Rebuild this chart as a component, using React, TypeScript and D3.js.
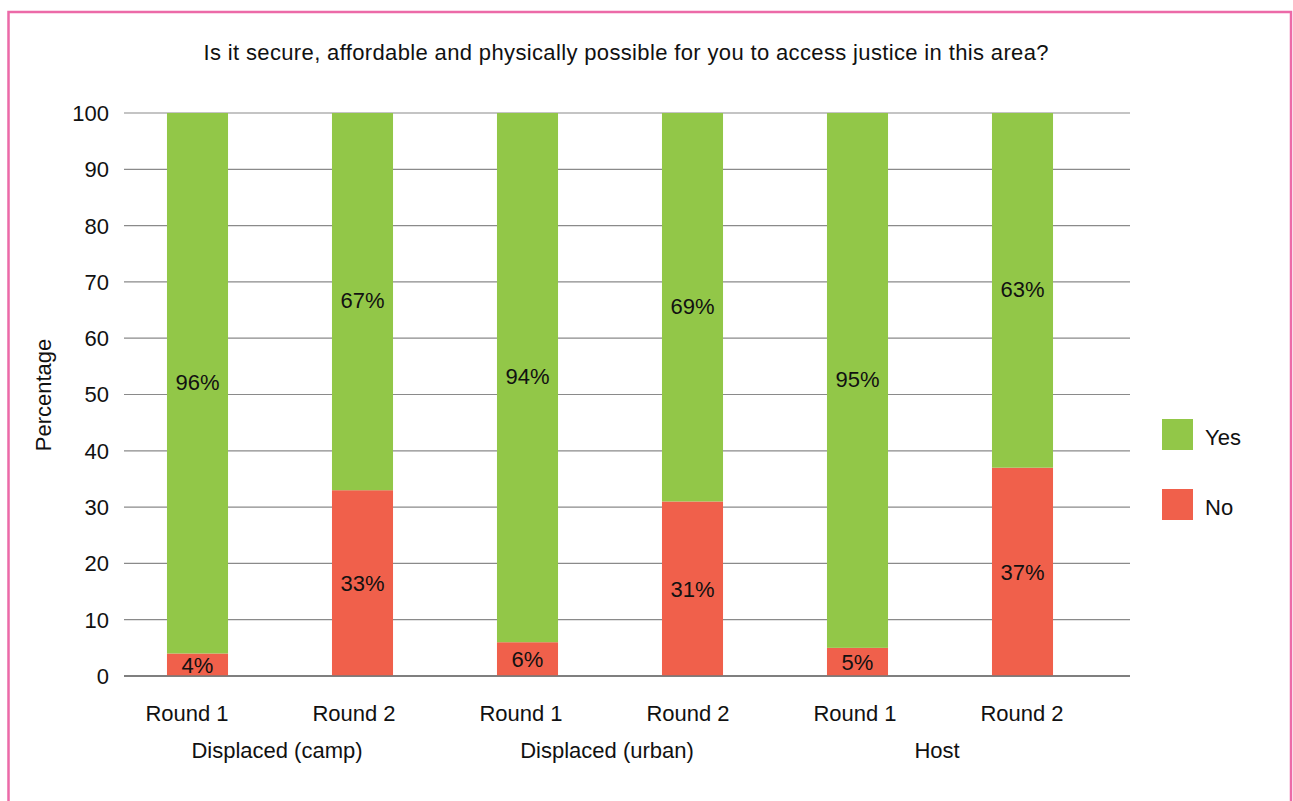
import React from "react";
import * as d3 from "d3";

const categories = ["Round 1", "Round 2", "Round 1", "Round 2", "Round 1", "Round 2"];
const groups = ["Displaced (camp)", "Displaced (urban)", "Host"];
const noValues = [4, 33, 6, 31, 5, 37];
const yesValues = [96, 67, 94, 69, 95, 63];
const yTicks = [0, 10, 20, 30, 40, 50, 60, 70, 80, 90, 100];
const seriesNames = ["Yes", "No"];

const W = 1293;
const H = 801;
const GREEN = "#92c748";
const RED = "#f0604b";
const FONT = "'Liberation Sans', Arial, Helvetica, sans-serif";
const FS = 22;

export default function App() {
  const y = d3.scaleLinear().domain([0, 100]).range([676, 113]);
  const idx = categories.map((_, i) => String(i));
  const x = d3.scaleBand().domain(idx).range([115, 1105]).paddingInner(0.63).paddingOuter(0.315);
  const xLabel = d3.scalePoint().domain(idx).range([187, 1022]);
  const bw = x.bandwidth();
  const gridX0 = 124;
  const gridX1 = 1130;

  return (
    <svg width={W} height={H} style={{ position: "absolute", left: 0, top: 0, fontFamily: FONT }}>
      <rect x={0} y={0} width={W} height={H} fill="#fff" />
      <rect x={8.5} y={12} width={1282.5} height={H + 20} fill="none" stroke="#ec6aa8" strokeWidth={2.5} />
      <text x={626} y={60} textAnchor="middle" fontSize={FS} fill="#111" textLength={845} lengthAdjust="spacing">
        Is it secure, affordable and physically possible for you to access justice in this area?
      </text>
      {yTicks.map((t) => (
        <g key={t}>
          <line x1={gridX0} x2={gridX1} y1={y(t)} y2={y(t)} stroke={t === 0 ? "#777" : "#8a8a8a"} strokeWidth={t === 0 ? 1.5 : 1.2} />
          <text x={109} y={y(t)} dy="0.36em" textAnchor="end" fontSize={FS} fill="#111">
            {t}
          </text>
        </g>
      ))}
      <text transform="translate(51,395) rotate(-90)" textAnchor="middle" fontSize={FS} fill="#111">
        Percentage
      </text>
      {idx.map((k, i) => {
        const x0 = x(k)!;
        const no = noValues[i];
        const yes = yesValues[i];
        return (
          <g key={k}>
            <rect x={x0} width={bw} y={y(no)} height={y(0) - y(no)} fill={RED} />
            <rect x={x0} width={bw} y={y(no + yes)} height={y(no) - y(no + yes)} fill={GREEN} />
            <text x={x0 + bw / 2} y={y(no / 2)} dy="0.36em" textAnchor="middle" fontSize={FS} fill="#111">
              {no}%
            </text>
            <text x={x0 + bw / 2} y={y(no + yes / 2)} dy="0.3em" textAnchor="middle" fontSize={FS} fill="#111">
              {yes}%
            </text>
            <text x={xLabel(k)!} y={721} textAnchor="middle" fontSize={FS} fill="#111">
              {categories[i]}
            </text>
          </g>
        );
      })}
      <line x1={gridX0} x2={gridX1} y1={y(0)} y2={y(0)} stroke="#777" strokeWidth={1.5} />
      {groups.map((g, gi) => {
        const c = (x(String(gi * 2))! + x(String(gi * 2 + 1))! + bw) / 2;
        return (
          <text key={g} x={c - 3} y={758} textAnchor="middle" fontSize={FS} fill="#111">
            {g}
          </text>
        );
      })}
      {seriesNames.map((s, i) => (
        <g key={s}>
          <rect x={1162} y={419 + i * 70} width={31} height={31} fill={i === 0 ? GREEN : RED} />
          <text x={1205} y={445 + i * 70} fontSize={FS} fill="#111">
            {s}
          </text>
        </g>
      ))}
    </svg>
  );
}
